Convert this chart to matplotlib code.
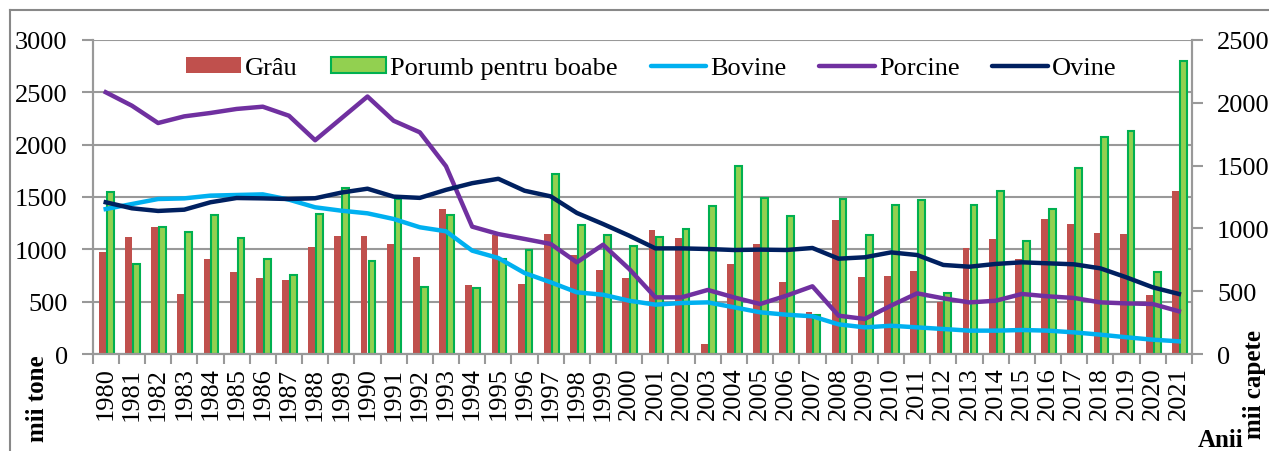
import matplotlib
matplotlib.use("Agg")
import matplotlib.pyplot as plt
import numpy as np
from matplotlib.lines import Line2D
from matplotlib.patches import Patch

years = list(range(1980, 2022))
wheat = [970,1120,1210,570,910,780,725,710,1025,1130,
         1125,1055,922,1389,655,1135,667,1151,947,798,
         725,1182,1112,100,858,1055,686,405,1284,736,
         741,791,500,1008,1096,912,1287,1246,1160,1144,
         566,1561]
corn = [1548,858,1210,1163,1332,1106,909,750,1341,1586,
        890,1480,636,1328,632,912,992,1717,1237,1138,
        1030,1119,1195,1414,1793,1490,1322,372,1478,1141,
        1424,1468,580,1421,1554,1077,1389,1777,2077,2133,
        788,2796]
bovine = [1154,1194,1234,1239,1261,1266,1271,1229,1168,1141,
          1120,1075,1009,977,823,764,645,571,491,472,
          424,393,406,411,372,332,313,300,236,212,
          225,212,199,186,186,191,186,172,154,133,
          114,101]
porcine = [2084,1977,1839,1892,1919,1951,1969,1897,1702,1876,
           2050,1857,1765,1495,1014,955,916,876,730,870,
           677,451,451,510,451,398,464,539,305,279,
           385,483,443,411,424,478,459,446,411,403,
           398,340]
ovine = [1208,1160,1139,1149,1208,1242,1239,1234,1240,1285,
         1316,1253,1243,1307,1360,1395,1300,1255,1123,1035,
         942,841,841,836,828,831,828,844,759,770,
         809,788,709,695,717,730,722,714,682,610,
         531,478]
left_ticks = [0, 500, 1000, 1500, 2000, 2500, 3000]
right_ticks = [0, 500, 1000, 1500, 2000, 2500]

plt.rcParams['font.family'] = ['Liberation Serif', 'DejaVu Serif']
FS = 19
GRAY = '#999999'

fig = plt.figure(figsize=(12.69, 4.52), dpi=100)
ax = fig.add_axes([0.0730, 0.2146, 0.8663, 0.6947])
ax2 = ax.twinx()

x = np.arange(len(years))
w = 0.26
ax.bar(x - 0.13, wheat, width=w, color='#C0504D', zorder=2)
ax.bar(x + 0.17, corn, width=w, color='#92D050', edgecolor='#00B050', linewidth=1.5, zorder=2)

ax.set_xlim(-0.5, len(years) - 0.5)
ax.set_ylim(0, 3000)
ax.set_yticks(left_ticks)
ax.set_yticklabels([str(t) for t in left_ticks], fontsize=FS)
ax.yaxis.grid(True, color=GRAY, linewidth=1.5, zorder=0)
ax.set_axisbelow(True)

ax.set_xticks(x)
ax.set_xticklabels([str(y) for y in years], rotation=90, fontsize=FS, va='top')
ax.set_xticks(np.arange(len(years) + 1) - 0.5, minor=True)
ax.tick_params(axis='x', which='major', length=0, pad=9)
ax.tick_params(axis='x', which='minor', length=7, color=GRAY, width=1.5)
ax.tick_params(axis='y', length=8, color=GRAY, width=1.5, pad=10)

lw = 3.2
ax2.plot(x, bovine, color='#00B0F0', linewidth=lw, zorder=3)
ax2.plot(x, porcine, color='#7030A0', linewidth=lw, zorder=3)
ax2.plot(x, ovine, color='#002060', linewidth=lw, zorder=3)
ax2.set_ylim(0, 2500)
ax2.set_yticks(right_ticks)
ax2.set_yticklabels([str(t) for t in right_ticks], fontsize=FS)
ax2.tick_params(axis='y', length=8, color=GRAY, width=1.5, pad=10)

for a in (ax, ax2):
    a.spines['top'].set_visible(False)
    for s in ('left', 'right', 'bottom'):
        a.spines[s].set_color(GRAY)
        a.spines[s].set_linewidth(1.5)

handles = [Patch(facecolor='#C0504D', edgecolor='none'),
           Patch(facecolor='#92D050', edgecolor='#00B050', linewidth=1.5),
           Line2D([], [], color='#00B0F0', linewidth=lw, solid_capstyle='round'),
           Line2D([], [], color='#7030A0', linewidth=lw, solid_capstyle='round'),
           Line2D([], [], color='#002060', linewidth=lw, solid_capstyle='round')]
labels = ['Grâu', 'Porumb pentru boabe', 'Bovine', 'Porcine', 'Ovine']
leg = ax2.legend(handles, labels, ncol=5, loc='center', bbox_to_anchor=(0.508, 0.91),
                 frameon=False, fontsize=FS, handlelength=2.1, handleheight=0.55,
                 handletextpad=0.15, columnspacing=1.25, borderaxespad=0)

fig.text(38/1269, 1 - 355/452, 'mii tone', rotation=90, fontsize=18, fontweight='bold',
         ha='center', va='top')
fig.text(1255/1269, 1 - 330/452, 'mii capete', rotation=90, fontsize=18, fontweight='bold',
         ha='center', va='top')
fig.text(1243/1269, 1 - 447/452, 'Anii', fontsize=18, fontweight='bold',
         ha='right', va='baseline')

# outer frame (top and left edges visible)
fig.add_artist(Line2D([10/1269, 10/1269], [0, 1 - 11/452], color='#888888', linewidth=1.5,
                      transform=fig.transFigure))
fig.add_artist(Line2D([10/1269, 1], [1 - 11/452, 1 - 11/452], color='#888888', linewidth=1.5,
                      transform=fig.transFigure))

fig.savefig('out.png', dpi=100)
